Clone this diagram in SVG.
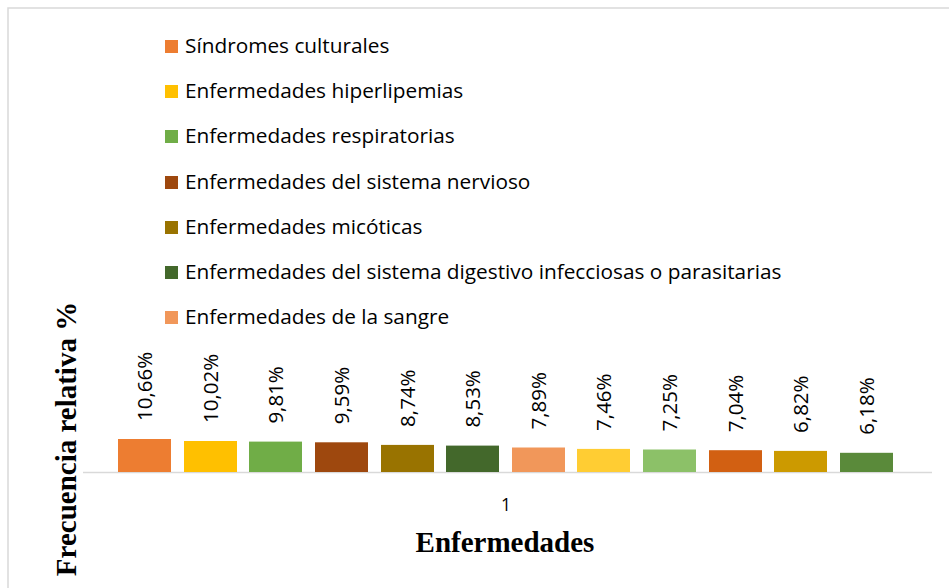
<svg xmlns="http://www.w3.org/2000/svg" width="949" height="588" viewBox="0 0 949 588">
<style>
.frame{stroke:#d9d9d9;stroke-width:1.5;fill:none}
.axis{stroke:#d9d9d9;stroke-width:1.5;fill:none}
.leg{font-family:"Open Sans","Liberation Sans",sans-serif;font-size:20.8px;fill:#000}
.lbl{font-family:"Open Sans","Liberation Sans",sans-serif;font-size:20.5px;fill:#000}
.cat{font-family:"Open Sans","Liberation Sans",sans-serif;font-size:17.5px;fill:#000;text-anchor:middle}
.title{font-family:"Liberation Serif","Times New Roman",serif;font-size:29px;font-weight:bold;fill:#000;text-anchor:middle}
</style>
<rect width="949" height="588" fill="#ffffff"/>
<path class="frame" d="M8,588 V8 H949"/>
<g id="legend">
<g id="leg1"><rect x="165" y="40" width="13" height="13" fill="#ED7D31"/><text class="leg" x="185" y="53">Síndromes culturales</text></g>
<g id="leg2"><rect x="165" y="85" width="13" height="13" fill="#FFC000"/><text class="leg" x="185" y="98">Enfermedades hiperlipemias</text></g>
<g id="leg3"><rect x="165" y="130" width="13" height="13" fill="#70AD47"/><text class="leg" x="185" y="143">Enfermedades respiratorias</text></g>
<g id="leg4"><rect x="165" y="176" width="13" height="13" fill="#9E480E"/><text class="leg" x="185" y="189">Enfermedades del sistema nervioso</text></g>
<g id="leg5"><rect x="165" y="221" width="13" height="13" fill="#997300"/><text class="leg" x="185" y="234">Enfermedades micóticas</text></g>
<g id="leg6"><rect x="165" y="266" width="13" height="13" fill="#43682B"/><text class="leg" x="185" y="279">Enfermedades del sistema digestivo infecciosas o parasitarias</text></g>
<g id="leg7"><rect x="165" y="311" width="13" height="13" fill="#F1975A"/><text class="leg" x="185" y="324">Enfermedades de la sangre</text></g>
</g>
<g id="connectors"><line class="axis" x1="83" y1="472.5" x2="932" y2="472.5"/></g>
<g id="bars">
<g id="bar1"><rect x="118" y="439" width="53" height="33" fill="#ED7D31"/><text class="lbl" transform="translate(152,421) rotate(-90)">10,66%</text></g>
<g id="bar2"><rect x="184" y="441" width="53" height="31" fill="#FFC000"/><text class="lbl" transform="translate(218,423) rotate(-90)">10,02%</text></g>
<g id="bar3"><rect x="249" y="441.6" width="53" height="30.4" fill="#70AD47"/><text class="lbl" transform="translate(283,423.6) rotate(-90)">9,81%</text></g>
<g id="bar4"><rect x="315" y="442.3" width="53" height="29.7" fill="#9E480E"/><text class="lbl" transform="translate(349,424.3) rotate(-90)">9,59%</text></g>
<g id="bar5"><rect x="381" y="444.9" width="53" height="27.1" fill="#997300"/><text class="lbl" transform="translate(415,426.9) rotate(-90)">8,74%</text></g>
<g id="bar6"><rect x="446" y="445.6" width="53" height="26.4" fill="#43682B"/><text class="lbl" transform="translate(480,427.6) rotate(-90)">8,53%</text></g>
<g id="bar7"><rect x="512" y="447.5" width="53" height="24.5" fill="#F1975A"/><text class="lbl" transform="translate(546,429.5) rotate(-90)">7,89%</text></g>
<g id="bar8"><rect x="577" y="448.9" width="53" height="23.1" fill="#FFCD33"/><text class="lbl" transform="translate(611,430.9) rotate(-90)">7,46%</text></g>
<g id="bar9"><rect x="643" y="449.5" width="53" height="22.5" fill="#8CC168"/><text class="lbl" transform="translate(677,431.5) rotate(-90)">7,25%</text></g>
<g id="bar10"><rect x="709" y="450.2" width="53" height="21.8" fill="#D26012"/><text class="lbl" transform="translate(743,432.2) rotate(-90)">7,04%</text></g>
<g id="bar11"><rect x="774" y="450.9" width="53" height="21.1" fill="#CC9A00"/><text class="lbl" transform="translate(808,432.9) rotate(-90)">6,82%</text></g>
<g id="bar12"><rect x="840" y="452.8" width="53" height="19.2" fill="#5A8A3A"/><text class="lbl" transform="translate(874,434.8) rotate(-90)">6,18%</text></g>
</g>
<g id="axis-labels">
<text class="cat" x="506" y="511">1</text>
<text class="title" x="505" y="552">Enfermedades</text>
<text class="title" transform="translate(76,439) rotate(-90)">Frecuencia relativa %</text>
</g>
</svg>
